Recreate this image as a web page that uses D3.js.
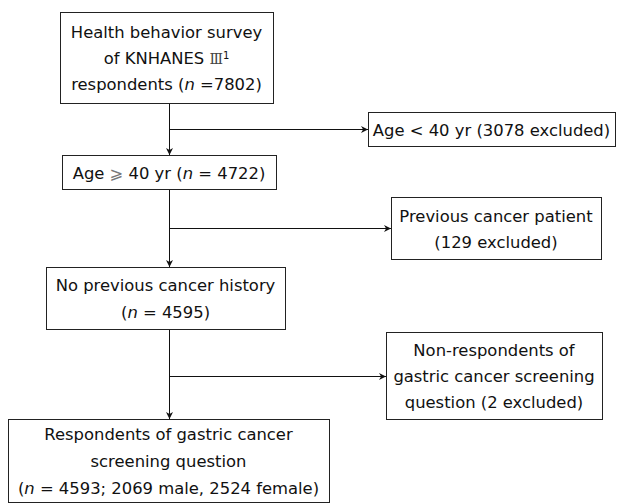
<!DOCTYPE html>
<html>
<head>
<meta charset="utf-8">
<script src="https://cdn.jsdelivr.net/npm/d3@7"></script>
<style>
  body { margin: 0; background: #fff; }
  text { font-family: "DejaVu Sans", Verdana, sans-serif; font-size: 16.4px; fill: #111; }
</style>
</head>
<body>
<div id="flow"></div>
<script>
// box ids and their text lines (segments: [text, style])
var boxIds = ["survey", "young", "aged", "prevCancer", "noHistory", "nonResp", "resp"];
var boxLines = [
  [[["Health behavior survey"]], [["of KNHANES "], ["\u2162", "roman"], ["1", "sup"]], [["respondents ("], ["n", "it"], [" =7802)"]]],
  [[["Age < 40 yr (3078 excluded)"]]],
  [[["Age "], ["\u2A7E", "sym"], [" 40 yr ("], ["n", "it"], [" = 4722)"]]],
  [[["Previous cancer patient"]], [["(129 excluded)"]]],
  [[["No previous cancer history"]], [["("], ["n", "it"], [" = 4595)"]]],
  [[["Non-respondents of"]], [["gastric cancer screening"]], [["question (2 excluded)"]]],
  [[["Respondents of gastric cancer"]], [["screening question"]], [["("], ["n", "it"], [" = 4593; 2069 male, 2524 female)"]]]
];
// main flow and exclusions
var mainFlow = ["survey", "aged", "noHistory", "resp"];
var exclusions = [["survey", "young"], ["aged", "prevCancer"], ["noHistory", "nonResp"]];

// layout (pixels)
var layout = {
  survey:     { x: 60,  y: 12,  w: 213, h: 91, lh: 26 },
  young:      { x: 368, y: 112, w: 247, h: 34 },
  aged:       { x: 62,  y: 155, w: 214, h: 34 },
  prevCancer: { x: 391, y: 197, w: 210, h: 62, lh: 26 },
  noHistory:  { x: 46,  y: 267, w: 239, h: 62, lh: 27 },
  nonResp:    { x: 386, y: 332, w: 216, h: 87, lh: 26 },
  resp:       { x: 8,   y: 419, w: 321, h: 83, lh: 27 }
};
var trunkX = 169;

var W = 617, H = 503;
var svg = d3.select("#flow").append("svg")
  .attr("width", W)
  .attr("height", H);

svg.append("defs").append("marker")
  .attr("id", "arrow")
  .attr("viewBox", "0 0 10 10")
  .attr("refX", 10).attr("refY", 5)
  .attr("markerWidth", 9).attr("markerHeight", 7)
  .attr("markerUnits", "userSpaceOnUse")
  .attr("orient", "auto")
  .append("path")
  .attr("d", "M0,0 L10,5 L0,10 L3,5 Z")
  .attr("fill", "#111");

var boxes = boxIds.map(function(id, i) {
  return Object.assign({ id: id, lines: boxLines[i] }, layout[id]);
});
var byId = {};
boxes.forEach(function(b) { byId[b.id] = b; });

// connectors: vertical trunk between main boxes, then side arrows
var links = svg.append("g");
for (var i = 0; i < mainFlow.length - 1; i++) {
  var a = byId[mainFlow[i]], b = byId[mainFlow[i + 1]];
  links.append("line")
    .attr("x1", trunkX + 0.5).attr("y1", a.y + a.h)
    .attr("x2", trunkX + 0.5).attr("y2", b.y)
    .attr("stroke", "#111").attr("stroke-width", 1)
    .attr("marker-end", "url(#arrow)");
}
exclusions.forEach(function(e) {
  var t = byId[e[1]];
  var y = Math.round(t.y + t.h / 2) + 0.5;
  links.append("line")
    .attr("x1", trunkX).attr("y1", y)
    .attr("x2", t.x).attr("y2", y)
    .attr("stroke", "#111").attr("stroke-width", 1)
    .attr("marker-end", "url(#arrow)");
});

var node = svg.append("g")
  .selectAll(".box")
  .data(boxes)
  .enter().append("g")
  .attr("class", "box")
  .attr("transform", function(d) { return "translate(" + d.x + "," + d.y + ")"; });

node.append("rect")
  .attr("x", 0.5).attr("y", 0.5)
  .attr("width", function(d) { return d.w; })
  .attr("height", function(d) { return d.h; })
  .attr("fill", "#fff")
  .attr("stroke", "#222")
  .attr("stroke-width", 1);

node.each(function(d) {
  var g = d3.select(this);
  var n = d.lines.length, lh = d.lh || 25;
  var top = d.h / 2 - (n - 1) * lh / 2 + 1;
  d.lines.forEach(function(segs, li) {
    var t = g.append("text")
      .attr("x", d.w / 2)
      .attr("y", top + li * lh)
      .attr("dy", "0.36em")
      .attr("text-anchor", "middle");
    segs.forEach(function(s) {
      var sp = t.append("tspan").text(s[0]);
      if (s[1] === "it") sp.style("font-style", "italic");
      if (s[1] === "roman") sp.style("font-family", "'DejaVu Serif'").style("font-size", "14px").style("fill", "#444");
      if (s[1] === "sym") sp.style("fill", "#777");
      if (s[1] === "sup") sp.attr("baseline-shift", "55%").style("font-size", "10px");
    });
  });
});
</script>
</body>
</html>
